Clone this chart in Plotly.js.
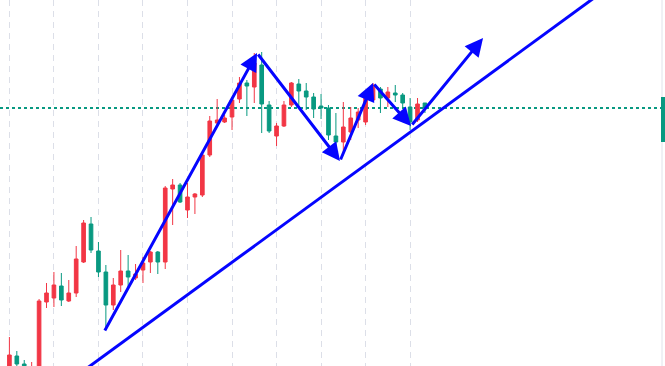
<!DOCTYPE html>
<html>
<head>
<meta charset="utf-8">
<script src="https://cdn.plot.ly/plotly-3.0.1.min.js"></script>
<style>html,body{margin:0;padding:0;background:#fff;}#chart{width:665px;height:366px;}</style>
</head>
<body>
<div id="chart"></div>
<script>
// Candle index (bar number) and OHLC prices (arbitrary price units)
const bars  = [0,1,2,3,4,5,6,7,8,9,10,11,12,13,14,15,16,17,18,19,20,21,22,23,24,25,26,27,28,29,30,31,32,33,34,35,36,37,38,39,40,41,42,43,44,45,46,47,48,49,50,51,52,53,54,55,56];
const open  = [28,44,36,25,30,98,102,114,99,107,138,176,149,128,95,115,129,122,130,138,148,138,211,215,190,203,205,245,277,278,283,301,317,313,335,295,264,274,295,316,309,303,294,292,264,258,268,280,278,300,311,302,307,305,293,280,297];
const high  = [63,49,40,38,101,117,128,127,120,154,180,183,158,135,122,150,145,136,143,149,149,214,221,217,217,207,247,284,301,285,303,323,320,347,348,299,277,299,318,321,317,307,306,295,287,298,293,292,307,317,313,313,315,307,302,302,297];
const low   = [22,32,28,22,28,92,93,94,98,103,137,147,123,72,90,108,113,120,117,127,126,131,175,197,182,186,203,243,275,277,270,297,284,297,267,267,254,273,293,293,290,282,281,260,247,247,260,272,275,298,287,293,298,293,270,278,287];
const close = [45,36,30,32,99,107,115,100,107,141,177,150,128,95,115,129,123,126,137,148,138,212,215,198,203,206,245,279,280,282,300,317,314,337,296,269,274,295,317,309,303,291,292,265,258,273,282,288,302,315,302,308,305,297,278,296,292];

// Hand-drawn pattern (zigzag) points: bar position and price
const zigBar   = [12.75, 33.37, 44.55, 49.0, 54.12, 63.83];
const zigPrice = [68, 347, 239, 317, 274, 362];
// Support trend line endpoints
const trendBar   = [8.0, 88.0];
const trendPrice = [18.5, 452.0];
// Vertical grid every 6 bars
const gridBars = [0,6,12,18,24,30,36,42,48,54];

const UP = '#f23645', DOWN = '#089981', BLUE = '#0505ff';

const trace = {
  type: 'candlestick',
  x: bars, open: open, high: high, low: low, close: close,
  increasing: {line: {color: UP, width: 1}, fillcolor: UP},
  decreasing: {line: {color: DOWN, width: 1}, fillcolor: DOWN},
  whiskerwidth: 0,
  hoverinfo: 'skip'
};

const annotations = [];
for (let k = 1; k < zigBar.length; k++) {
  annotations.push({
    x: zigBar[k], y: zigPrice[k], xref: 'x', yref: 'y',
    ax: zigBar[k-1], ay: zigPrice[k-1], axref: 'x', ayref: 'y',
    showarrow: true, arrowhead: 2, arrowsize: 1.2, arrowwidth: 3,
    arrowcolor: BLUE, text: '', standoff: 0
  });
}

const lastClose = close[close.length - 1];

const shapes = [
  {type: 'line', xref: 'paper', yref: 'y', x0: 0, x1: 1, y0: lastClose, y1: lastClose,
   line: {color: DOWN, width: 2, dash: 'dot'}, layer: 'below'},
  {type: 'line', xref: 'x', yref: 'y', x0: trendBar[0], x1: trendBar[1], y0: trendPrice[0], y1: trendPrice[1],
   line: {color: BLUE, width: 3}},
  {type: 'line', xref: 'paper', yref: 'paper', x0: 0.9955, x1: 0.9955, y0: 0, y1: 1,
   line: {color: '#e0e3eb', width: 1}},
  {type: 'rect', xref: 'paper', yref: 'y', x0: 0.994, x1: 1.0, y0: 258, y1: 303,
   fillcolor: DOWN, line: {width: 0}}
];

const layout = {
  width: 665, height: 366,
  margin: {l: 0, r: 0, t: 0, b: 0},
  paper_bgcolor: '#ffffff', plot_bgcolor: '#ffffff',
  showlegend: false,
  xaxis: {
    range: [-1.267, 88.35], rangeslider: {visible: false},
    tickvals: gridBars, showticklabels: false, ticks: '',
    showgrid: true, gridcolor: '#dcdfe8', gridwidth: 1, griddash: '6px,5px',
    zeroline: false, showline: false, fixedrange: true
  },
  yaxis: {
    range: [34, 400], showgrid: false, showticklabels: false, ticks: '',
    zeroline: false, showline: false, fixedrange: true
  },
  annotations: annotations,
  shapes: shapes
};

Plotly.newPlot('chart', [trace], layout, {staticPlot: true, displayModeBar: false});
</script>
</body>
</html>
